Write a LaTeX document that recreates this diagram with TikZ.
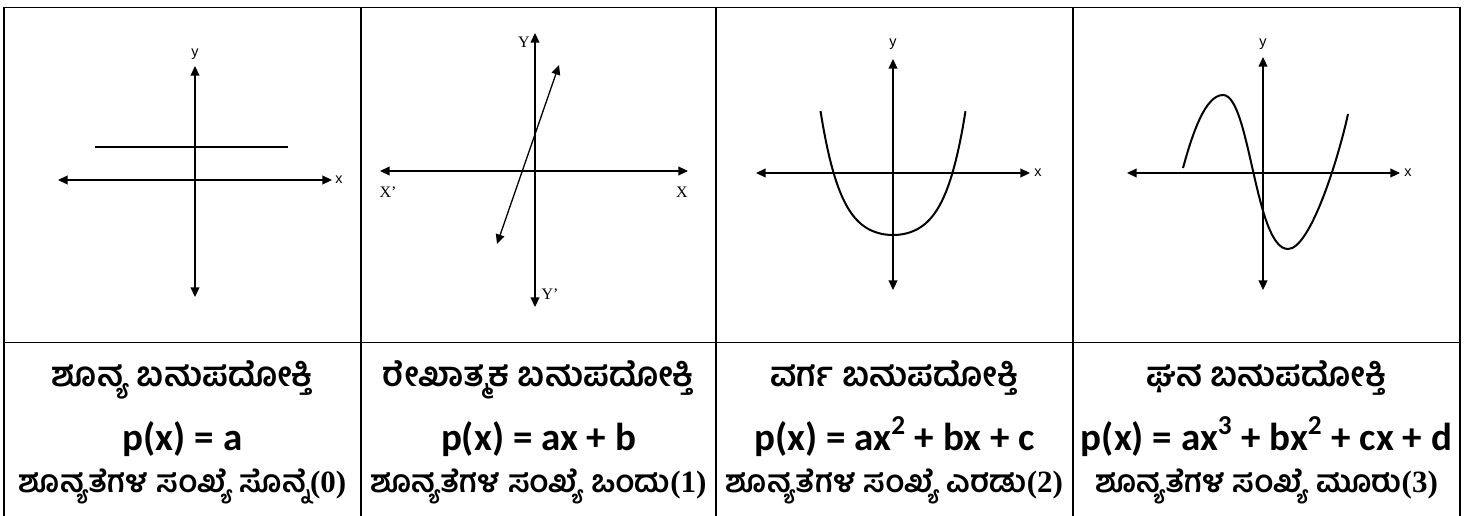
\documentclass[tikz,border=0pt]{standalone}
\usepackage{fontspec}
\setmainfont{Liberation Serif}
\newfontfamily\kn[Script=Kannada]{Hind Mysuru}
\newfontfamily\calb{Carlito}
\newfontfamily\lsans{Liberation Sans}
\usetikzlibrary{arrows.meta}
\tikzset{
  grid/.style={line width=0.9pt},
  axis/.style={line width=0.65pt,{Triangle[length=4.8pt,width=4.4pt]}-{Triangle[length=4.8pt,width=4.4pt]}},
  curve/.style={line width=1pt},
  lbl/.style={font=\lsans\fontsize{7.2}{8}\selectfont,inner sep=0pt},
  slbl/.style={font=\rmfamily\fontsize{8}{9}\selectfont,inner sep=0pt},
  title/.style={font=\kn\bfseries\fontsize{17}{19}\selectfont,anchor=base,inner sep=0pt},
  formula/.style={font=\calb\bfseries\fontsize{19.5}{22}\selectfont,anchor=base,inner sep=0pt},
  zeros/.style={font=\kn\bfseries\fontsize{15.5}{18}\selectfont,anchor=base,inner sep=0pt},
}
\newcommand{\dig}[1]{{\rmfamily\bfseries(#1)}}
\begin{document}
\begin{tikzpicture}[x=0.5pt,y=-0.5pt]
\useasboundingbox (0,0) rectangle (1470,515);
% table
\draw[grid] (4,520) -- (4,7.5) -- (1460,7.5) -- (1460,520);
\draw[grid] (4,342.5) -- (1460,342.5);
\draw[grid] (361,7.5) -- (361,520);
\draw[grid] (716,7.5) -- (716,520);
\draw[grid] (1073,7.5) -- (1073,520);

% panel 1
\coordinate (a1l) at (58,180); \coordinate (a1r) at (332,180);
\coordinate (a1t) at (195,66); \coordinate (a1b) at (195,297);
\coordinate (h1l) at (95,147); \coordinate (h1r) at (288,147);
\draw[axis] (a1l) -- (a1r);
\draw[axis] (a1b) -- (a1t);
\draw[curve] (h1l) -- (h1r);
\fill (195,147) circle (1.5);
\fill (195,180) circle (1.3);
\node[lbl] (y1) at (195,54) {y};
\node[lbl] (x1) at (339,180) {x};

% panel 2
\coordinate (a2l) at (380,171); \coordinate (a2r) at (688,171);
\coordinate (a2t) at (535,33); \coordinate (a2b) at (535,307);
\coordinate (l2a) at (497,244); \coordinate (l2b) at (559,65);
\draw[axis] (a2l) -- (a2r);
\draw[axis] (a2b) -- (a2t);
\draw[axis] (l2a) -- (l2b);
\node[slbl] (Y2) at (524,42) {Y};
\node[slbl] (Y2p) at (550,294) {Y’};
\node[slbl] (X2p) at (388,192) {X’};
\node[slbl] (X2) at (682,192) {X};

% panel 3
\coordinate (a3l) at (756,173); \coordinate (a3r) at (1030,173);
\coordinate (a3t) at (893,59); \coordinate (a3b) at (893,290);
\draw[axis] (a3l) -- (a3r);
\draw[axis] (a3b) -- (a3t);
\draw[curve] plot[domain=-1:1,samples=81,smooth] ({893+72.5*\x},{235-46.2*\x*\x-50.5*\x*\x*\x*\x-27.3*\x*\x*\x*\x*\x*\x});
\node[lbl] (y3) at (893,44) {y};
\node[lbl] (x3) at (1038,173) {x};

% panel 4
\coordinate (a4l) at (1127,173); \coordinate (a4r) at (1400,173);
\coordinate (a4t) at (1263,57); \coordinate (a4b) at (1263,290);
\draw[axis] (a4l) -- (a4r);
\draw[axis] (a4b) -- (a4t);
\coordinate (c0) at (1183,168); \coordinate (cmax) at (1223,95);
\coordinate (cmin) at (1288,249); \coordinate (cend) at (1348,114);
\draw[curve] (c0) .. controls (1192,135) and (1205,95) .. (cmax)
  .. controls (1250,95) and (1255,249) .. (cmin)
  .. controls (1310,249) and (1338,160) .. (cend);
\node[lbl] (y4) at (1263,44) {y};
\node[lbl] (x4) at (1408,173) {x};

% text rows
\node[title] (t1) at (182.5,386) {ಶೂನ್ಯ ಬಹುಪದೋಕ್ತಿ};
\node[title] (t2) at (538.5,386) {ರೇಖಾತ್ಮಕ ಬಹುಪದೋಕ್ತಿ};
\node[title] (t3) at (894.5,386) {ವರ್ಗ ಬಹುಪದೋಕ್ತಿ};
\node[title] (t4) at (1266.5,386) {ಘನ ಬಹುಪದೋಕ್ತಿ};

\node[formula] (f1) at (182.5,450) {p(x) = a};
\node[formula] (f2) at (538.5,450) {p(x) = ax + b};
\node[formula] (f3) at (894.5,450) {p(x) = ax\textsuperscript{2} + bx + c};
\node[formula] (f4) at (1266.5,450) {p(x) = ax\textsuperscript{3} + bx\textsuperscript{2} + cx + d};

\node[zeros] (z1) at (182.5,492) {ಶೂನ್ಯತೆಗಳ ಸಂಖ್ಯೆ ಸೊನ್ನೆ\dig{0}};
\node[zeros] (z2) at (538.5,492) {ಶೂನ್ಯತೆಗಳ ಸಂಖ್ಯೆ ಒಂದು\dig{1}};
\node[zeros] (z3) at (894.5,492) {ಶೂನ್ಯತೆಗಳ ಸಂಖ್ಯೆ ಎರಡು\dig{2}};
\node[zeros] (z4) at (1266.5,492) {ಶೂನ್ಯತೆಗಳ ಸಂಖ್ಯೆ ಮೂರು\dig{3}};
\end{tikzpicture}
\end{document}
